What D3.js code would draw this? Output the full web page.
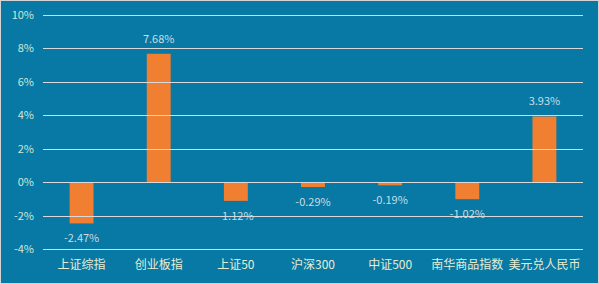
<!DOCTYPE html>
<html>
<head>
<meta charset="utf-8">
<script src="https://cdn.jsdelivr.net/npm/d3@7"></script>
<style>
  html, body { margin: 0; padding: 0; background: #fff; }
  svg { display: block; }
</style>
</head>
<body>
<div id="chart"></div>
<script>
const categories = ["上证综指", "创业板指", "上证50", "沪深300", "中证500", "南华商品指数", "美元兑人民币"];
const values = [-2.47, 7.68, -1.12, -0.29, -0.19, -1.02, 3.93];
const yTicks = [-4, -2, 0, 2, 4, 6, 8, 10];

const width = 599, height = 284;
const margin = { top: 15, right: 16, bottom: 35, left: 43 };

const svg = d3.select("#chart").append("svg")
    .attr("width", width)
    .attr("height", height);

// background + thin border
svg.append("rect")
    .attr("x", 0.5).attr("y", 0.5)
    .attr("width", width - 1).attr("height", height - 1)
    .attr("fill", "#0878a5")
    .attr("stroke", "#d4d4d4");

const x = d3.scaleBand()
    .domain(categories)
    .range([margin.left, width - margin.right])
    .paddingInner(0.69)
    .paddingOuter(0.345);

const y = d3.scaleLinear()
    .domain([-4, 10])
    .range([height - margin.bottom, margin.top]);

const font = "'Noto Sans CJK SC', 'Noto Sans', sans-serif";

// bars
svg.append("g")
    .selectAll("rect")
    .data(values)
    .enter().append("rect")
    .attr("x", (d, i) => x(categories[i]))
    .attr("width", x.bandwidth())
    .attr("y", d => y(Math.max(0, d)))
    .attr("height", d => Math.abs(y(d) - y(0)))
    .attr("fill", "#f07f32");

// value labels
svg.append("g")
    .selectAll("text")
    .data(values)
    .enter().append("text")
    .attr("x", (d, i) => x(categories[i]) + x.bandwidth() / 2)
    .attr("y", d => d >= 0 ? y(d) - 15 : y(d) + 15)
    .attr("dy", "0.35em")
    .attr("text-anchor", "middle")
    .style("font-family", font)
    .style("font-size", "11px")
    .attr("fill", "#c9dde2")
    .text(d => d.toFixed(2) + "%");

// gridlines
svg.append("g")
    .selectAll("line")
    .data(yTicks)
    .enter().append("line")
    .attr("x1", margin.left)
    .attr("x2", width - margin.right)
    .attr("y1", d => Math.round(y(d)) + 0.5)
    .attr("y2", d => Math.round(y(d)) + 0.5)
    .attr("stroke", "#d9d9d9")
    .attr("stroke-width", 1.2);

// y axis labels
const yAxis = svg.append("g")
    .attr("transform", `translate(${margin.left},0)`)
    .call(d3.axisLeft(y).tickValues(yTicks).tickSize(0).tickPadding(9).tickFormat(d => d + "%"));
yAxis.select(".domain").remove();
yAxis.selectAll("text")
    .style("font-family", font)
    .style("font-size", "11px")
    .attr("fill", "#d3e6d4");

// x axis labels
const xAxis = svg.append("g")
    .attr("transform", `translate(0,${height - margin.bottom})`)
    .call(d3.axisBottom(x).tickSize(0).tickPadding(11));
xAxis.select(".domain").remove();
xAxis.selectAll("text")
    .style("font-family", font)
    .style("font-size", "12px")
    .attr("fill", "#e6eed2");
</script>
</body>
</html>
